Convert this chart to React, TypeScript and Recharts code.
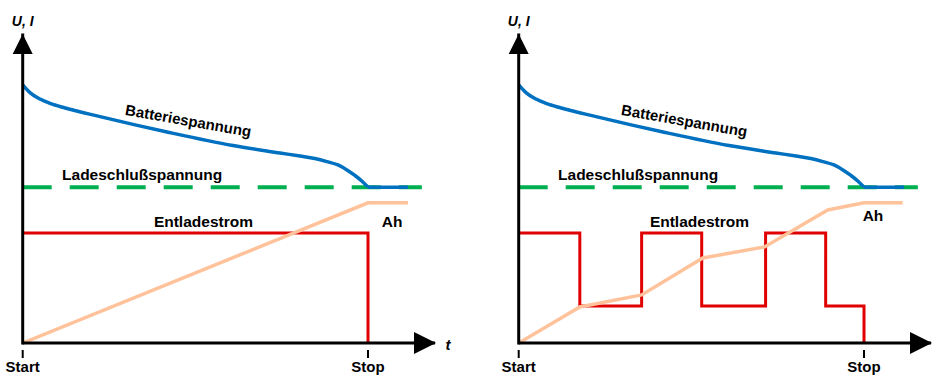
import React from "react";
import { ComposedChart, Line, XAxis, YAxis, ReferenceDot } from "recharts";

// time axis: Start = 0, Stop = 100, arrow tip at X_MAX
const X_MAX = 119.4;
const Y_MAX = 100;

const tickTimes = [0, 100];
const tickLabels = ["Start", "Stop"];

// Batteriespannung (same curve in both panels), falling part
const voltage = [
  { t: 0, v: 83.8 },
  { t: 2.1, v: 81.3 },
  { t: 5.0, v: 79.2 },
  { t: 7.9, v: 77.8 },
  { t: 12.3, v: 76.3 },
  { t: 22.4, v: 73.5 },
  { t: 41.8, v: 68.5 },
  { t: 60.9, v: 64.1 },
  { t: 74.5, v: 61.7 },
  { t: 80.3, v: 60.7 },
  { t: 84.6, v: 59.9 },
  { t: 88.1, v: 58.9 },
  { t: 91.3, v: 57.8 },
  { t: 93.9, v: 56.2 },
  { t: 96.2, v: 54.4 },
  { t: 98.2, v: 52.6 },
  { t: 100, v: 50.6 },
];
// after Stop the voltage stays at the cut-off level
const voltageHold = [
  { t: 100, v: 50.6 },
  { t: 111.6, v: 50.6 },
];

// Ladeschlußspannung
const cutoff = [
  { t: 0, v: 50.6 },
  { t: 115.6, v: 50.6 },
];

// left: constant discharge current
const currentConst = [
  { t: 0, v: 35.7 },
  { t: 100, v: 35.7 },
  { t: 100, v: 0 },
];
const ahConst = [
  { t: 0, v: 0 },
  { t: 100, v: 45.5 },
  { t: 111.6, v: 45.5 },
];

// right: pulsed discharge current
const currentPulsed = [
  { t: 0, v: 35.7 },
  { t: 17.7, v: 35.7 },
  { t: 17.7, v: 12 },
  { t: 35.6, v: 12 },
  { t: 35.6, v: 35.7 },
  { t: 53, v: 35.7 },
  { t: 53, v: 12 },
  { t: 71.5, v: 12 },
  { t: 71.5, v: 35.7 },
  { t: 88.9, v: 35.7 },
  { t: 88.9, v: 12 },
  { t: 100, v: 12 },
  { t: 100, v: 0 },
];
const ahPulsed = [
  { t: 0, v: 0 },
  { t: 17.7, v: 11.7 },
  { t: 35.6, v: 15.6 },
  { t: 53.3, v: 27.6 },
  { t: 71.2, v: 31.2 },
  { t: 89.5, v: 43.2 },
  { t: 100, v: 45.5 },
  { t: 111.2, v: 45.5 },
];

const FONT = "'Liberation Sans', Arial, Helvetica, sans-serif";

function Tag({ cx, cy, text, anchor = "start", rotate = 0, size = 15.5, italic = false }: any) {
  return (
    <text
      x={cx}
      y={cy}
      textAnchor={anchor}
      fontFamily={FONT}
      fontWeight="bold"
      fontStyle={italic ? "italic" : "normal"}
      fontSize={size}
      fill="#000"
      transform={rotate ? `rotate(${rotate} ${cx} ${cy})` : undefined}
    >
      {text}
    </text>
  );
}

function TimeTick({ x, y, payload }: any) {
  const i = tickTimes.indexOf(payload.value);
  return (
    <g>
      <line x1={x} x2={x} y1={y + 7} y2={y + 15} stroke="#000" strokeWidth={2} />
      <text x={x} y={y + 29} textAnchor="middle" fontFamily={FONT} fontWeight="bold" fontSize={15} fill="#000">
        {tickLabels[i]}
      </text>
    </g>
  );
}

const upArrow = ({ cx, cy }: any) => (
  <polygon points={`${cx},${cy - 1} ${cx - 10},${cy + 19} ${cx + 10},${cy + 19}`} fill="#000" />
);
const rightArrow = ({ cx, cy }: any) => (
  <polygon points={`${cx + 1},${cy} ${cx - 21},${cy - 11} ${cx - 21},${cy + 11}`} fill="#000" />
);

function Panel({ current, ah, ahPos, showT, width, marginRight }: any) {
  const lineProps = { dataKey: "v", dot: false, isAnimationActive: false };
  return (
    <ComposedChart width={width} height={376} margin={{ top: 35, right: marginRight, bottom: 0, left: 21.7 }}>
      <XAxis
        type="number"
        dataKey="t"
        domain={[0, X_MAX]}
        ticks={tickTimes}
        height={33}
        tickSize={0}
        tickMargin={0}
        tickLine={false}
        tick={<TimeTick />}
        axisLine={{ stroke: "#000", strokeWidth: 3 }}
        allowDataOverflow
      />
      <YAxis
        type="number"
        dataKey="v"
        domain={[0, Y_MAX]}
        width={1}
        tick={false}
        tickLine={false}
        axisLine={{ stroke: "#000", strokeWidth: 3, strokeLinecap: "square" }}
        allowDataOverflow
      />
      <Line {...lineProps} data={cutoff} type="linear" stroke="#00B050" strokeWidth={4} strokeDasharray="29 18" />
      <Line {...lineProps} data={voltage} type="monotone" stroke="#0070C0" strokeWidth={3.5} />
      <Line {...lineProps} data={voltageHold} type="linear" stroke="#0070C0" strokeWidth={3.5} />
      <Line {...lineProps} data={current} type="linear" stroke="#E00000" strokeWidth={3} />
      <Line {...lineProps} data={ah} type="linear" stroke="#FFC29A" strokeWidth={3.5} />

      <ReferenceDot x={0} y={Y_MAX} r={0} ifOverflow="visible" shape={upArrow} />
      <ReferenceDot x={X_MAX} y={0} r={0} ifOverflow="visible" shape={rightArrow} />

      <ReferenceDot x={0} y={102.9} r={0} ifOverflow="visible"
        shape={(p: any) => <Tag {...p} text="U, I" anchor="middle" size={14} italic />} />
      {showT && (
        <ReferenceDot x={123.2} y={-2.3} r={0} ifOverflow="visible"
          shape={(p: any) => <Tag {...p} text="t" anchor="middle" size={15} italic />} />
      )}
      <ReferenceDot x={47.7} y={70.5} r={0} ifOverflow="visible"
        shape={(p: any) => <Tag {...p} text="Batteriespannung" anchor="middle" rotate={10} size={15} />} />
      <ReferenceDot x={11.4} y={52.9} r={0} ifOverflow="visible"
        shape={(p: any) => <Tag {...p} text="Ladeschlußspannung" />} />
      <ReferenceDot x={38.0} y={37.7} r={0} ifOverflow="visible"
        shape={(p: any) => <Tag {...p} text="Entladestrom" />} />
      <ReferenceDot x={ahPos.t} y={ahPos.v} r={0} ifOverflow="visible"
        shape={(p: any) => <Tag {...p} text="Ah" />} />
    </ComposedChart>
  );
}

export default function App() {
  return (
    <div style={{ position: "absolute", left: 0, top: 0, width: 940, height: 376, background: "#fff", overflow: "hidden" }}>
      <div style={{ position: "absolute", left: 0, top: 0 }}>
        <Panel current={currentConst} ah={ahConst} ahPos={{ t: 104.0, v: 37.7 }} showT width={470} marginRight={35} />
      </div>
      <div style={{ position: "absolute", left: 496, top: 0 }}>
        <Panel current={currentPulsed} ah={ahPulsed} ahPos={{ t: 99.6, v: 39.6 }} showT={false} width={444} marginRight={9} />
      </div>
    </div>
  );
}
